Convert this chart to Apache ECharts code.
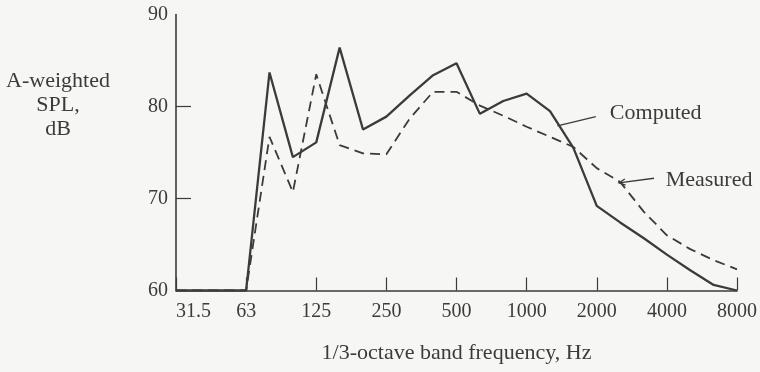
<!DOCTYPE html>
<html>
<head>
<meta charset="utf-8">
<script src="https://cdn.jsdelivr.net/npm/echarts@6/dist/echarts.min.js"></script>
<style>
html,body{margin:0;padding:0;background:#f6f6f5;}
#c{width:760px;height:372px;}
</style>
</head>
<body>
<div id="c"></div>
<script>
// 1/3-octave band centre frequencies (Hz)
const bands = ['31.5','40','50','63','80','100','125','160','200','250','315','400','500','630','800','1000','1250','1600','2000','2500','3150','4000','5000','6300','8000'];
// A-weighted SPL, dB
const computed = [60,60,60,60,83.7,74.5,76.1,86.4,77.5,78.9,81.2,83.4,84.7,79.2,80.6,81.4,79.5,75.5,69.2,67.4,65.7,63.9,62.2,60.6,60];
const measured = [60,60,60,60,76.7,70.7,83.5,75.8,74.9,74.8,78.7,81.6,81.6,80.1,79.0,77.8,76.7,75.6,73.3,71.8,68.6,66.0,64.5,63.3,62.3];
const yTicks = [60,70,80,90];

const ink = '#3b3b3b';
const font = 'Liberation Serif';

const chart = echarts.init(document.getElementById('c'), null, {renderer:'canvas'});
chart.setOption({
  animation:false,
  backgroundColor:'#f6f6f5',
  grid:{left:176, right:21.7, top:14.5, bottom:81.5},
  xAxis:{
    type:'value', min:0, max:bands.length-1, interval:3,
    name:'1/3-octave band frequency, Hz', nameLocation:'middle', nameGap:52,
    nameTextStyle:{fontFamily:font, fontSize:22, color:ink},
    axisLine:{show:true, lineStyle:{color:ink, width:1.6}},
    axisTick:{show:true, inside:true, length:13, lineStyle:{color:ink, width:1.2}},
    axisLabel:{fontFamily:font, fontSize:20, color:ink, margin:11, alignMinLabel:'left',
      formatter:(v)=>bands[Math.round(v)]},
    splitLine:{show:false}
  },
  yAxis:{
    type:'value', min:yTicks[0], max:yTicks[yTicks.length-1], interval:10,
    axisLine:{show:true, lineStyle:{color:ink, width:1.6}},
    axisTick:{show:true, inside:true, length:15, customValues:[70,80], lineStyle:{color:ink, width:1.2}},
    axisLabel:{fontFamily:font, fontSize:20, color:ink, margin:8},
    splitLine:{show:false}
  },
  series:[
    {name:'Computed', type:'line', data:computed.map((v,i)=>[i,v]), symbol:'none',
     lineStyle:{color:ink, width:2.3}, z:3},
    {name:'Measured', type:'line', data:measured.map((v,i)=>[i,v]), symbol:'none',
     lineStyle:{color:ink, width:1.8, type:[10,6]}, z:2}
  ]
});

// annotations (data-space anchors)
const P = (x,y)=>chart.convertToPixel({gridIndex:0},[x,y]);
const cA = P(16.32,77.9), cB = P(17.96,78.9), cT = P(18.56,79.3);
const mA = P(18.95,71.7), mB = P(20.45,72.2), mT = P(20.95,72.0);
const dx = mB[0]-mA[0], dy = mB[1]-mA[1], L = Math.hypot(dx,dy);
const ux = dx/L, uy = dy/L, ah = 7, ang = Math.PI/7;
const rot = (a)=>[ux*Math.cos(a)-uy*Math.sin(a), ux*Math.sin(a)+uy*Math.cos(a)];
const r1 = rot(ang), r2 = rot(-ang);

chart.setOption({
  graphic:[
    {type:'text', x:58, y:69, style:{text:'A-weighted\nSPL,\ndB', fill:ink,
      font:'22px "Liberation Serif"', align:'center', lineHeight:24}},
    {type:'line', shape:{x1:cA[0],y1:cA[1],x2:cB[0],y2:cB[1]}, style:{stroke:ink, lineWidth:1.3}},
    {type:'text', x:cT[0], y:cT[1], style:{text:'Computed', fill:ink, font:'22px "Liberation Serif"', verticalAlign:'middle', align:'left'}},
    {type:'line', shape:{x1:mA[0],y1:mA[1],x2:mB[0],y2:mB[1]}, style:{stroke:ink, lineWidth:1.3}},
    {type:'polyline', shape:{points:[[mA[0]+r1[0]*ah, mA[1]+r1[1]*ah],[mA[0],mA[1]],[mA[0]+r2[0]*ah, mA[1]+r2[1]*ah]]}, style:{stroke:ink, lineWidth:1.3, fill:null}},
    {type:'text', x:mT[0], y:mT[1], style:{text:'Measured', fill:ink, font:'22px "Liberation Serif"', verticalAlign:'middle', align:'left'}}
  ]
});
</script>
</body>
</html>
